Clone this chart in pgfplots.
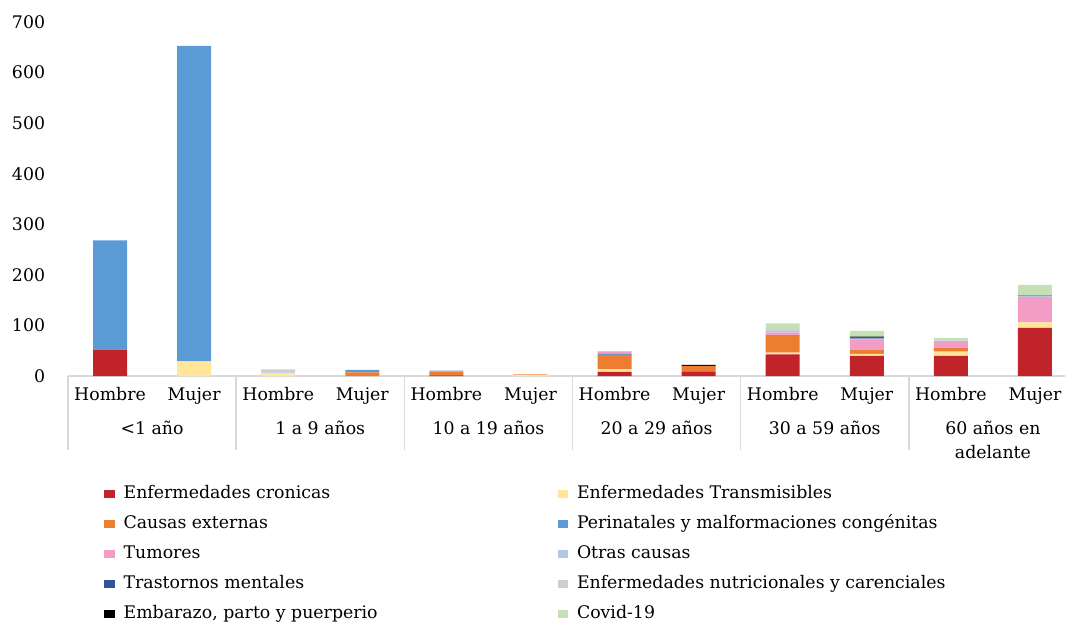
\documentclass[border=0pt]{standalone}
\usepackage{pgfplots}
\pgfplotsset{compat=1.18}
\usepackage{fontspec}
\setmainfont{DejaVu Serif}
\definecolor{cCron}{HTML}{C0232A}
\definecolor{cTrans}{HTML}{FFE699}
\definecolor{cExt}{HTML}{ED7D31}
\definecolor{cPeri}{HTML}{5B9BD5}
\definecolor{cTum}{HTML}{F29CC6}
\definecolor{cOtras}{HTML}{B4C7E7}
\definecolor{cMent}{HTML}{2F5597}
\definecolor{cNutri}{HTML}{D0CECE}
\definecolor{cEmb}{HTML}{000000}
\definecolor{cCovid}{HTML}{C5E0B4}
\definecolor{cAxis}{HTML}{D9D9D9}
\begin{document}
\begin{tikzpicture}[font=\fontsize{13pt}{18pt}\selectfont]
\begin{axis}[
  scale only axis,
  width=756.75pt, height=265.5pt,
  ybar stacked, bar width=25.5pt,
  xmin=-0.5, xmax=11.5, ymin=0, ymax=700,
  xtick={0,...,11},
  xticklabels={Hombre,Mujer,Hombre,Mujer,Hombre,Mujer,Hombre,Mujer,Hombre,Mujer,Hombre,Mujer},
  ytick={0,100,...,700},
  major tick length=0pt,
  axis lines*=left,
  y axis line style={draw=none},
  x axis line style={draw=cAxis, line width=1.1pt, -},
  xticklabel style={anchor=base, yshift=-18pt},
  yticklabel style={anchor=east, inner sep=0pt, xshift=-17pt},
  /pgf/number format/assume math mode=true,
  clip=false,
  legend columns=2,
  legend cell align=left,
  legend image code/.code={\fill[#1] (0pt,-3pt) rectangle (8pt,3pt); \path (12.5pt,0pt);},
  legend style={at={(rel axis cs:0,0)}, anchor=north west, xshift=24pt, yshift=-77.5pt,
    draw=none, fill=none, row sep=5.5pt,
    nodes={inner sep=2pt, text height=10pt, text depth=3pt},
    /tikz/every even column/.append style={column sep=133pt}},
]
\addplot+[fill=cCron, draw=none] coordinates {(0,52) (1,0) (2,0) (3,0) (4,1) (5,0) (6,8) (7,8) (8,43) (9,40) (10,40) (11,95)};
\addlegendentry{Enfermedades cronicas}
\addplot+[fill=cTrans, draw=none] coordinates {(0,0) (1,29) (2,5) (3,0) (4,0) (5,2) (6,5) (7,0) (8,3) (9,4) (10,8) (11,11)};
\addlegendentry{Enfermedades Transmisibles}
\addplot+[fill=cExt, draw=none] coordinates {(0,0) (1,0) (2,0) (3,7) (4,8) (5,1) (6,29) (7,12) (8,35) (9,7) (10,8) (11,0)};
\addlegendentry{Causas externas}
\addplot+[fill=cPeri, draw=none] coordinates {(0,216) (1,624) (2,0) (3,5) (4,0) (5,0) (6,2) (7,0) (8,0) (9,0) (10,0) (11,0)};
\addlegendentry{Perinatales y malformaciones congénitas}
\addplot+[fill=cTum, draw=none] coordinates {(0,0) (1,0) (2,0) (3,0) (4,0) (5,0) (6,4) (7,0) (8,5) (9,20) (10,13) (11,50)};
\addlegendentry{Tumores}
\addplot+[fill=cOtras, draw=none] coordinates {(0,0) (1,0) (2,2) (3,0) (4,2) (5,0) (6,1) (7,0) (8,3) (9,3) (10,1) (11,3)};
\addlegendentry{Otras causas}
\addplot+[fill=cMent, draw=none] coordinates {(0,0) (1,0) (2,0) (3,0) (4,0) (5,0) (6,0) (7,0) (8,0) (9,2) (10,0) (11,1)};
\addlegendentry{Trastornos mentales}
\addplot+[fill=cNutri, draw=none] coordinates {(0,0) (1,0) (2,6) (3,0) (4,0) (5,0) (6,0) (7,0) (8,2) (9,0) (10,0) (11,0)};
\addlegendentry{Enfermedades nutricionales y carenciales}
\addplot+[fill=cEmb, draw=none] coordinates {(0,0) (1,0) (2,0) (3,0) (4,0) (5,0) (6,0) (7,2) (8,0) (9,2) (10,0) (11,0)};
\addlegendentry{Embarazo, parto y puerperio}
\addplot+[fill=cCovid, draw=none] coordinates {(0,0) (1,0) (2,0) (3,0) (4,0) (5,0) (6,0) (7,0) (8,13) (9,11) (10,5) (11,20)};
\addlegendentry{Covid-19}
\foreach \s in {-0.5,1.5,3.5,5.5,7.5,9.5,11.5}{
  \edef\tmp{\noexpand\draw[cAxis, line width=1.1pt] (axis cs:\s,0) -- ([yshift=-55.5pt]axis cs:\s,0);}\tmp
}
\node[anchor=base, align=center] at ([yshift=-43.5pt]axis cs:0.5,0) {<1 año};
\node[anchor=base, align=center] at ([yshift=-43.5pt]axis cs:2.5,0) {1 a 9 años};
\node[anchor=base, align=center] at ([yshift=-43.5pt]axis cs:4.5,0) {10 a 19 años};
\node[anchor=base, align=center] at ([yshift=-43.5pt]axis cs:6.5,0) {20 a 29 años};
\node[anchor=base, align=center] at ([yshift=-43.5pt]axis cs:8.5,0) {30 a 59 años};
\node[anchor=base, align=center] at ([yshift=-61.5pt]axis cs:10.5,0) {60 años en\\adelante};
\end{axis}
\pgfresetboundingbox
\path[use as bounding box] ([shift={(-51pt,-184.5pt)}]current axis.south west) rectangle ([shift={(747.75pt,282pt)}]current axis.south west);
\end{tikzpicture}
\end{document}
